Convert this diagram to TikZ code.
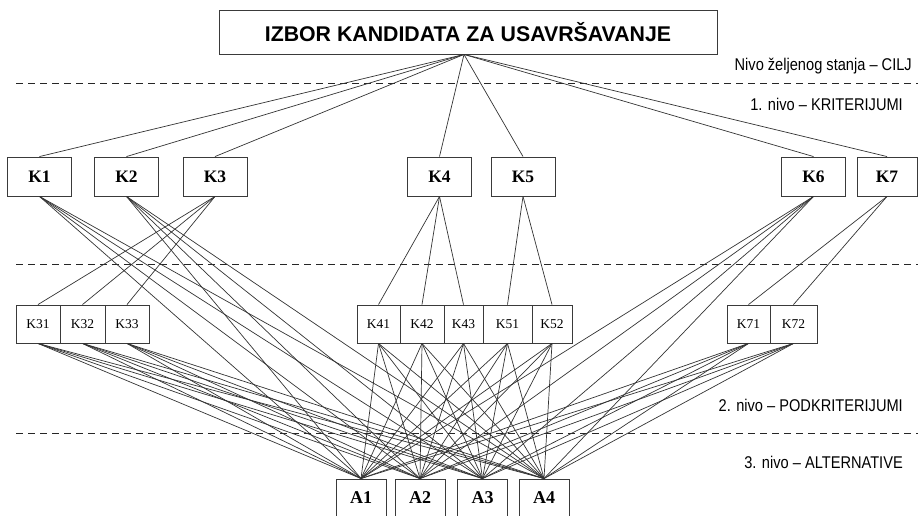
\documentclass[tikz,border=0pt]{standalone}
\usepackage{fontspec}
\setmainfont{Liberation Serif}
\newfontfamily\titlefont{Liberation Sans}
\newfontfamily\levelfont[FakeStretch=0.86]{Liberation Sans}
\usetikzlibrary{positioning}
\definecolor{edge}{HTML}{3A3A3A}
\definecolor{wire}{HTML}{333333}

\tikzset{
  box/.style={draw=edge, line width=0.9pt, inner sep=0pt},
  goalbox/.style={box, minimum width=498pt, minimum height=44pt,
    font=\titlefont\bfseries\fontsize{21.3}{22}\selectfont},
  crit/.style={box, minimum width=64pt, minimum height=39pt,
    font=\fontsize{17.5}{18}\selectfont\bfseries},
  subcrit/.style={box, minimum height=38pt, font=\fontsize{13.5}{14}\selectfont},
  alt/.style={box, minimum width=50pt, minimum height=38pt,
    font=\fontsize{18}{19}\selectfont\bfseries},
  link/.style={draw=wire, line width=0.7pt},
  levelname/.style={anchor=east, inner sep=0pt, font=\levelfont\fontsize{17}{18}\selectfont},
  levelsep/.style={draw=black!85, line width=0.8pt, dash pattern=on 7pt off 5pt}
}

\begin{document}
\begin{tikzpicture}[x=1pt, y=-1pt]
  \useasboundingbox (0,0) rectangle (918,515);

  % goal
  \node[goalbox] (goal) at (468,32) {IZBOR KANDIDATA ZA USAVRŠAVANJE};
  \coordinate (hub) at ([xshift=-4pt]goal.south);

  % level names and separators
  \node[levelname] (cilj) at (912,66) {Nivo željenog stanja – CILJ};
  \node[levelname] (lvl1) at (903,104) {1. nivo – KRITERIJUMI};
  \node[levelname] (lvl2) at (903,405) {2. nivo – PODKRITERIJUMI};
  \node[levelname] (lvl3) at (903,462) {3. nivo – ALTERNATIVE};
  \draw[levelsep] (16,83) -- (918,83);
  \draw[levelsep] (16,264) -- (918,264);
  \draw[levelsep] (16,433) -- (918,433);

  % 1. level: criteria
  \node[crit] (k1) at (39.5,176.5) {K1};
  \node[crit] (k2) at (126.5,176.5) {K2};
  \node[crit] (k3) at (215,176.5) {K3};
  \node[crit] (k4) at (439.5,176.5) {K4};
  \node[crit] (k5) at (523,176.5) {K5};
  \node[crit] (k6) at (813.5,176.5) {K6};
  \node[crit, minimum width=60pt] (k7) at (887,176.5) {K7};

  % 2. level: sub-criteria
  \node[subcrit, minimum width=44pt] (k31) at (38,324) {K31};
  \node[subcrit, minimum width=45pt] (k32) at (82.5,324) {K32};
  \node[subcrit, minimum width=44pt] (k33) at (127,324) {K33};
  \node[subcrit, minimum width=43pt] (k41) at (378.5,324) {K41};
  \node[subcrit, minimum width=44pt] (k42) at (422,324) {K42};
  \node[subcrit, minimum width=39pt] (k43) at (463.5,324) {K43};
  \node[subcrit, minimum width=49pt] (k51) at (507.5,324) {K51};
  \node[subcrit, minimum width=40pt] (k52) at (552,324) {K52};
  \node[subcrit, minimum width=43pt] (k71) at (748.5,324) {K71};
  \node[subcrit, minimum width=47pt] (k72) at (793.5,324) {K72};

  % 3. level: alternatives
  \node[alt] (a1) at (361,498) {A1};
  \node[alt] (a2) at (420,498) {A2};
  \node[alt] (a3) at (482.5,498) {A3};
  \node[alt] (a4) at (544,498) {A4};

  % goal -> criteria
  \foreach \k in {k1,k2,k3,k4,k5,k6,k7}
    \draw[link] (hub) -- (\k.north);

  % criteria -> sub-criteria
  \foreach \s in {k31,k32,k33} \draw[link] (k3.south) -- (\s.north);
  \foreach \s in {k41,k42,k43} \draw[link] (k4.south) -- (\s.north);
  \foreach \s in {k51,k52} \draw[link] (k5.south) -- (\s.north);
  \foreach \s in {k71,k72} \draw[link] (k7.south) -- (\s.north);

  % everything below -> alternatives
  \foreach \s in {k1,k2,k31,k32,k33,k41,k42,k43,k51,k52,k6,k71,k72}
    \foreach \a in {a1,a2,a3,a4}
      \draw[link] (\s.south) -- (\a.north);
\end{tikzpicture}
\end{document}
